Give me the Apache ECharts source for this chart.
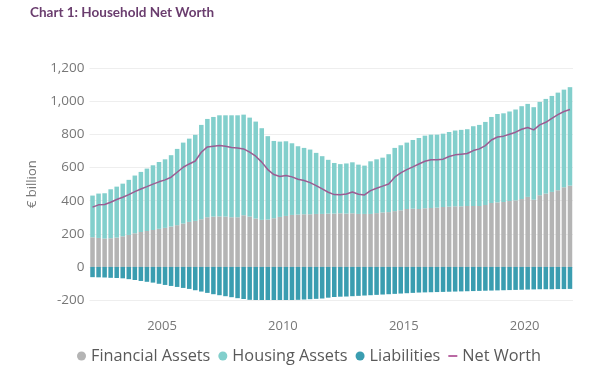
<!DOCTYPE html>
<html>
<head>
<meta charset="utf-8">
<script src="https://cdn.jsdelivr.net/npm/echarts@6/dist/echarts.min.js"></script>
<style>
html,body{margin:0;padding:0;background:#fff;}
#chart{width:614px;height:374px;}
</style>
</head>
<body>
<div id="chart"></div>
<script>
// Quarterly categories 2002 Q1 .. 2021 Q4
var firstYear = 2002, lastYear = 2021;
var categories = [];
for (var y = firstYear; y <= lastYear; y++) {
  for (var q = 1; q <= 4; q++) categories.push(y + ' Q' + q);
}
var xTickYears = ['2005', '2010', '2015', '2020'];

var financialAssets = [179,175,171,173,177,185,193,203,211,217,223,230,236,244,252,262,272,278,288,300,
  304,305,304,300,300,312,304,292,284,286,294,302,308,314,316,318,318,320,320,322,
  322,324,322,324,320,320,320,325,329,331,337,342,350,352,350,354,356,358,362,364,
  366,366,368,368,368,374,386,390,392,398,402,410,423,406,433,443,453,463,481,491];

var housingAssets = [252,268,274,296,308,318,333,349,363,377,391,404,414,431,461,489,503,520,570,594,
  602,611,612,616,616,608,598,586,554,504,467,455,451,433,413,401,391,369,349,325,
  306,297,303,308,298,292,318,325,331,350,382,393,401,415,429,439,443,441,443,451,
  458,462,464,482,490,502,520,534,536,541,549,561,562,559,564,572,580,590,590,595];

var liabilities = [-62,-63,-64,-66,-67,-69,-74,-79,-85,-90,-95,-102,-109,-115,-121,-127,-133,-141,-149,-157,
  -165,-171,-177,-183,-189,-194,-199,-202,-205,-206,-207,-205,-203,-201,-199,-197,-195,-193,-191,-186,
  -182,-180,-179,-177,-175,-173,-171,-169,-167,-165,-163,-161,-159,-157,-155,-154,-153,-152,-151,-150,
  -149,-148,-147,-146,-145,-144,-143,-142,-141,-140,-139,-138,-137,-136,-135,-135,-135,-134,-134,-133];

var netWorth = [361,375,377,391,407,421,437,455,471,485,500,514,526,542,572,602,622,640,693,725,
  729,733,729,721,719,713,693,669,633,588,558,546,552,544,530,522,509,491,471,451,
  437,436,441,453,439,435,461,475,488,501,542,568,588,604,622,638,647,647,651,667,
  677,681,685,703,713,733,767,785,790,802,814,832,842,828,858,874,898,920,939,951];

var seriesNames = ['Financial Assets', 'Housing Assets', 'Liabilities', 'Net Worth'];
var colors = {fin: '#b4b4b4', house: '#82cfcc', liab: '#3a9db0', nw: '#9c5c92'};

var chart = echarts.init(document.getElementById('chart'), null, {renderer: 'canvas'});
var font = '"Open Sans", "Noto Sans", sans-serif';

chart.setOption({
  animation: false,
  backgroundColor: '#ffffff',
  textStyle: {fontFamily: font},
  title: {
    text: 'Chart 1: Household Net Worth',
    left: 25, top: 1,
    textStyle: {fontFamily: 'Lato, "Open Sans", sans-serif', fontWeight: 'bold', fontSize: 13.5, color: '#6a3d6e'}
  },
  legend: {
    left: 72, top: 343,
    itemWidth: 9, itemHeight: 9, itemGap: 8,
    textStyle: {fontFamily: font, fontSize: 16.3, color: '#595959'},
    data: [
      {name: seriesNames[0], icon: 'circle'},
      {name: seriesNames[1], icon: 'circle'},
      {name: seriesNames[2], icon: 'circle'},
      {name: seriesNames[3], icon: 'path://M0,4L10,4L10,6L0,6Z'}
    ]
  },
  grid: {left: 89.5, right: 41, top: 68.3, bottom: 74, containLabel: false},
  xAxis: {
    type: 'category',
    data: categories,
    boundaryGap: true,
    axisLine: {show: false, onZero: false},
    axisTick: {show: false},
    axisLabel: {
      color: '#777777', fontSize: 13, fontFamily: font, margin: 20,
      padding: [0, 6, 0, 0],
      interval: function (idx, val) {
        return val.slice(5) === 'Q1' && xTickYears.indexOf(val.slice(0, 4)) >= 0;
      },
      formatter: function (val) { return val.slice(0, 4); }
    }
  },
  yAxis: {
    type: 'value',
    min: -200, max: 1200, interval: 200,
    name: '€ billion',
    nameLocation: 'middle',
    nameRotate: 90,
    nameGap: 45,
    nameTextStyle: {color: '#777777', fontSize: 13, fontFamily: font},
    axisLine: {show: false},
    axisTick: {show: false},
    axisLabel: {color: '#777777', fontSize: 13.5, fontFamily: font, margin: 5},
    splitLine: {lineStyle: {color: '#eeeeee', width: 1}}
  },
  series: [
    {name: seriesNames[0], type: 'bar', stack: 'total', data: financialAssets,
      barCategoryGap: '25%', itemStyle: {color: colors.fin}},
    {name: seriesNames[1], type: 'bar', stack: 'total', data: housingAssets,
      itemStyle: {color: colors.house}},
    {name: seriesNames[2], type: 'bar', stack: 'total', data: liabilities,
      itemStyle: {color: colors.liab}},
    {name: seriesNames[3], type: 'line', data: netWorth, showSymbol: false, symbol: 'none',
      lineStyle: {color: colors.nw, width: 1.5}, itemStyle: {color: '#b3589a'}, z: 5}
  ]
});
</script>
</body>
</html>
